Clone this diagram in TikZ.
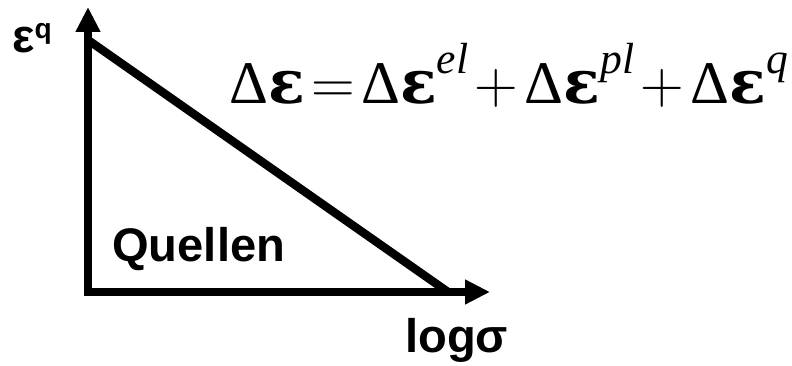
\RequirePackage{fix-cm}
\documentclass[tikz,border=0pt]{standalone}
\usepackage{fontspec}
\setmainfont{Liberation Sans}
\newfontfamily\formelfont{Liberation Serif}
\newfontfamily\epsfont{DejaVu Serif}
\usetikzlibrary{arrows.meta}
\tikzset{
  achse/.style={line width=0.21cm,line join=miter,{Triangle[length=0.62cm,width=0.58cm]}-{Triangle[length=0.62cm,width=0.58cm]}},
  linie/.style={line width=0.21cm},
  beschr/.style={font=\fontsize{33.5}{40}\selectfont\bfseries,inner sep=0pt},
  formel/.style={font=\fontsize{43}{50}\selectfont\formelfont,inner sep=0pt}
}
\newcommand{\hochq}[1]{\raisebox{0.37cm}{\fontsize{20}{24}\selectfont #1}}
\newcommand{\hochz}[1]{\raisebox{0.75cm}{\fontsize{31}{36}\selectfont\itshape #1}}
\newcommand{\deps}{Δ{\epsfont\bfseries ε}}
\newcommand{\luecke}{\hspace{0.16cm}}

\begin{document}
\begin{tikzpicture}[x=0.025cm,y=-0.025cm]
\useasboundingbox (0,0) rectangle (792,366);
\coordinate (ursprung) at (88,292);
\coordinate (yspitze) at (88,7);
\coordinate (xspitze) at (490,292);
\coordinate (oben) at (88,40);
\coordinate (unten) at (448,292);
\draw[achse] (yspitze) -- (ursprung) -- (xspitze);
\draw[linie] (oben) -- (unten);
% Beschriftung
\node[beschr,anchor=base west] (epsq) at (12,53) {ε\hochq{q}};
\node[beschr,anchor=base west] (quellen) at (112,262) {Quellen};
\node[beschr,anchor=base west] (logsigma) at (405,353) {logσ};
\node[formel,anchor=base west] (gleichung) at (229,104)
  {\deps\luecke$=$\luecke\deps\hochz{el}\luecke$+$\luecke\deps\hochz{pl}\luecke$+$\luecke\deps\hochz{q}};
\end{tikzpicture}
\end{document}
